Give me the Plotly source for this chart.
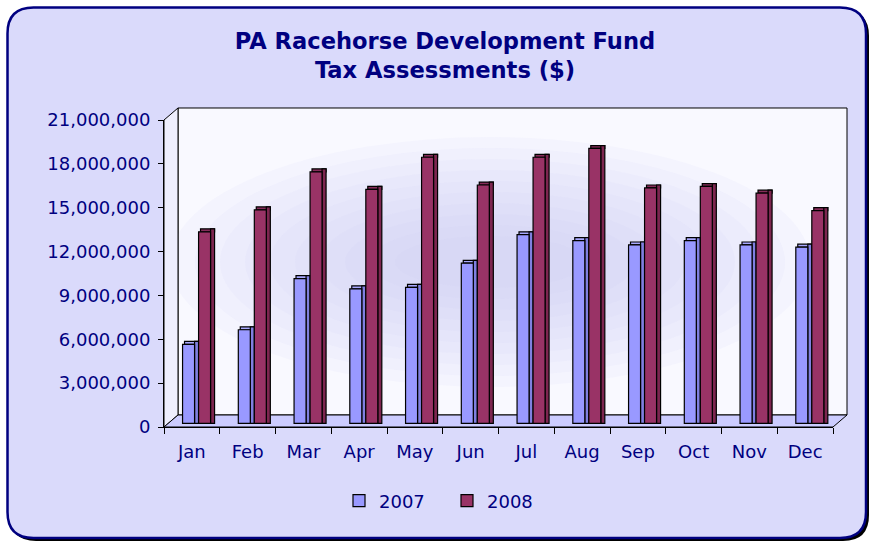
import plotly.graph_objects as go

months = ["Jan", "Feb", "Mar", "Apr", "May", "Jun", "Jul", "Aug", "Sep", "Oct", "Nov", "Dec"]
y2007 = [5400000, 6400000, 9900000, 9200000, 9300000, 10950000, 12900000, 12500000, 12200000, 12500000, 12200000, 12050000]
y2008 = [13100000, 14600000, 17200000, 16000000, 18200000, 16300000, 18200000, 18800000, 16100000, 16200000, 15750000, 14550000]
tick_vals = [0, 3000000, 6000000, 9000000, 12000000, 15000000, 18000000, 21000000]
tick_text = ["0", "3,000,000", "6,000,000", "9,000,000", "12,000,000", "15,000,000", "18,000,000", "21,000,000"]

NAVY = "#000080"
FONT = "DejaVu Sans"

# layout geometry (pixels)
FW, FH = 873, 544
L, R, T, B = 164, 40, 120, 117
PW, PH = FW - L - R, FH - T - B
BOTTOM = FH - B


def P(px, py):
    return ((px - L) / PW, (BOTTOM - py) / PH)


def path(points, close=True):
    s = ""
    for cmd, pts in points:
        s += cmd + " ".join("%.5f,%.5f" % P(*p) for p in pts) + " "
    if close:
        s += "Z"
    return s


def rounded(x0, y0, x1, y1, r):
    return path([
        ("M", [(x0 + r, y0)]), ("L", [(x1 - r, y0)]), ("Q", [(x1, y0), (x1, y0 + r)]),
        ("L", [(x1, y1 - r)]), ("Q", [(x1, y1), (x1 - r, y1)]),
        ("L", [(x0 + r, y1)]), ("Q", [(x0, y1), (x0, y1 - r)]),
        ("L", [(x0, y0 + r)]), ("Q", [(x0, y0), (x0 + r, y0)]),
    ])


shapes = []
# outer frame shadow and frame
shapes.append(dict(type="path", xref="paper", yref="paper", layer="below",
                   path=rounded(10, 10, 869, 541, 26), fillcolor="#000000", line=dict(width=0)))
shapes.append(dict(type="path", xref="paper", yref="paper", layer="below",
                   path=rounded(7.5, 7.5, 866, 538, 26), fillcolor="#DADAFB",
                   line=dict(color=NAVY, width=2.5)))
# back wall
DX, DY = 14, 12
shapes.append(dict(type="path", xref="paper", yref="paper", layer="below",
                   path=path([("M", [(L + DX, T - DY)]), ("L", [(L + PW + DX, T - DY)]),
                              ("L", [(L + PW + DX, BOTTOM - DY)]), ("L", [(L + DX, BOTTOM - DY)])]),
                   fillcolor="#F9F9FF", line=dict(color="#000000", width=1)))
# soft lavender haze on back wall
cx, cy = 490, 262
for k in range(10):
    w = 640 - k * 50
    h = 250 - k * 22
    x0, y0 = P(cx - w / 2, cy - h / 2)
    x1, y1 = P(cx + w / 2, cy + h / 2)
    shapes.append(dict(type="circle", xref="paper", yref="paper", layer="below",
                       x0=x0, y0=y0, x1=x1, y1=y1, fillcolor="#C4C4F2", opacity=0.09,
                       line=dict(width=0)))
# left wall
shapes.append(dict(type="path", xref="paper", yref="paper", layer="below",
                   path=path([("M", [(L, T)]), ("L", [(L + DX, T - DY)]),
                              ("L", [(L + DX, BOTTOM - DY)]), ("L", [(L, BOTTOM)])]),
                   fillcolor="#EEEEFD", line=dict(color="#000000", width=1)))
# floor
shapes.append(dict(type="path", xref="paper", yref="paper", layer="below",
                   path=path([("M", [(L, BOTTOM)]), ("L", [(L + DX, BOTTOM - DY)]),
                              ("L", [(L + PW + DX, BOTTOM - DY)]), ("L", [(L + PW, BOTTOM)])]),
                   fillcolor="#CCCCFF", line=dict(color="#000000", width=1)))

TOP_H = 200000  # apparent depth of the bar tops, in value units
series = [
    ("2007", y2007, "#9999FF", "#8080E0", "#A9A9FF", -0.167),
    ("2008", y2008, "#993366", "#7D2650", "#862C5A", 0.12),
]
FRONT_W, SIDE_W = 0.215, 0.072
OUT = dict(color="#000000", width=1.2)

fig = go.Figure()
for name, vals, front, side, top, off in series:
    fig.add_trace(go.Bar(x=months, y=[TOP_H] * len(vals), base=vals, offset=off + 0.035,
                         width=FRONT_W + SIDE_W - 0.035, marker=dict(color=top, line=OUT),
                         yaxis="y2", showlegend=False, hoverinfo="skip"))
    fig.add_trace(go.Bar(x=months, y=[v + TOP_H for v in vals], offset=off + FRONT_W,
                         width=SIDE_W, marker=dict(color=side, line=OUT),
                         yaxis="y2", showlegend=False, hoverinfo="skip"))
    fig.add_trace(go.Bar(x=months, y=vals, offset=off, width=FRONT_W, name=name,
                         marker=dict(color=front, line=OUT), yaxis="y2"))

# invisible trace to anchor the tick axis
fig.add_trace(go.Scatter(x=months, y=[0] * 12, mode="markers", marker=dict(opacity=0),
                         showlegend=False, hoverinfo="skip"))

shift = 3.7 * 21000000 / PH
fig.update_layout(
    width=FW, height=FH,
    margin=dict(l=L, r=R, t=T, b=B, pad=0, autoexpand=False),
    paper_bgcolor="#FFFFFF", plot_bgcolor="rgba(0,0,0,0)",
    barmode="overlay",
    shapes=shapes,
    font=dict(family=FONT, size=18, color=NAVY),
    title=dict(text="PA Racehorse Development Fund<br>Tax Assessments ($)",
               font=dict(family=FONT, size=22.6, color=NAVY, weight="bold"),
               x=445 / FW, xanchor="center", xref="container",
               y=1 - 49 / FH, yanchor="middle", yref="container"),
    xaxis=dict(type="category", categoryorder="array", categoryarray=months,
               range=[-0.5, 11.5], tickson="boundaries", ticks="outside", ticklen=6,
               tickcolor="#000000", showline=True, linecolor="#000000", linewidth=1,
               showgrid=False, zeroline=False, ticklabelstandoff=8,
               tickfont=dict(family=FONT, size=18, color=NAVY)),
    yaxis=dict(range=[0, 21000000], tickvals=tick_vals, ticktext=tick_text,
               ticks="outside", ticklen=5, tickcolor="#000000", showline=True,
               linecolor="#000000", linewidth=1, showgrid=False, zeroline=False,
               ticklabelstandoff=4, tickfont=dict(family=FONT, size=18, color=NAVY)),
    yaxis2=dict(range=[-shift, 21000000 - shift], overlaying="y", visible=False,
                showgrid=False, zeroline=False),
    legend=dict(orientation="h", x=(447 - L) / PW, xanchor="center",
                y=(BOTTOM - 501) / PH, yanchor="middle", bgcolor="rgba(0,0,0,0)",
                font=dict(family=FONT, size=18, color=NAVY), itemwidth=30,
                entrywidth=63, entrywidthmode="pixels"),
)

fig.write_html("out.html", config={"displayModeBar": False},
               post_script="document.body.style.margin='0';")
